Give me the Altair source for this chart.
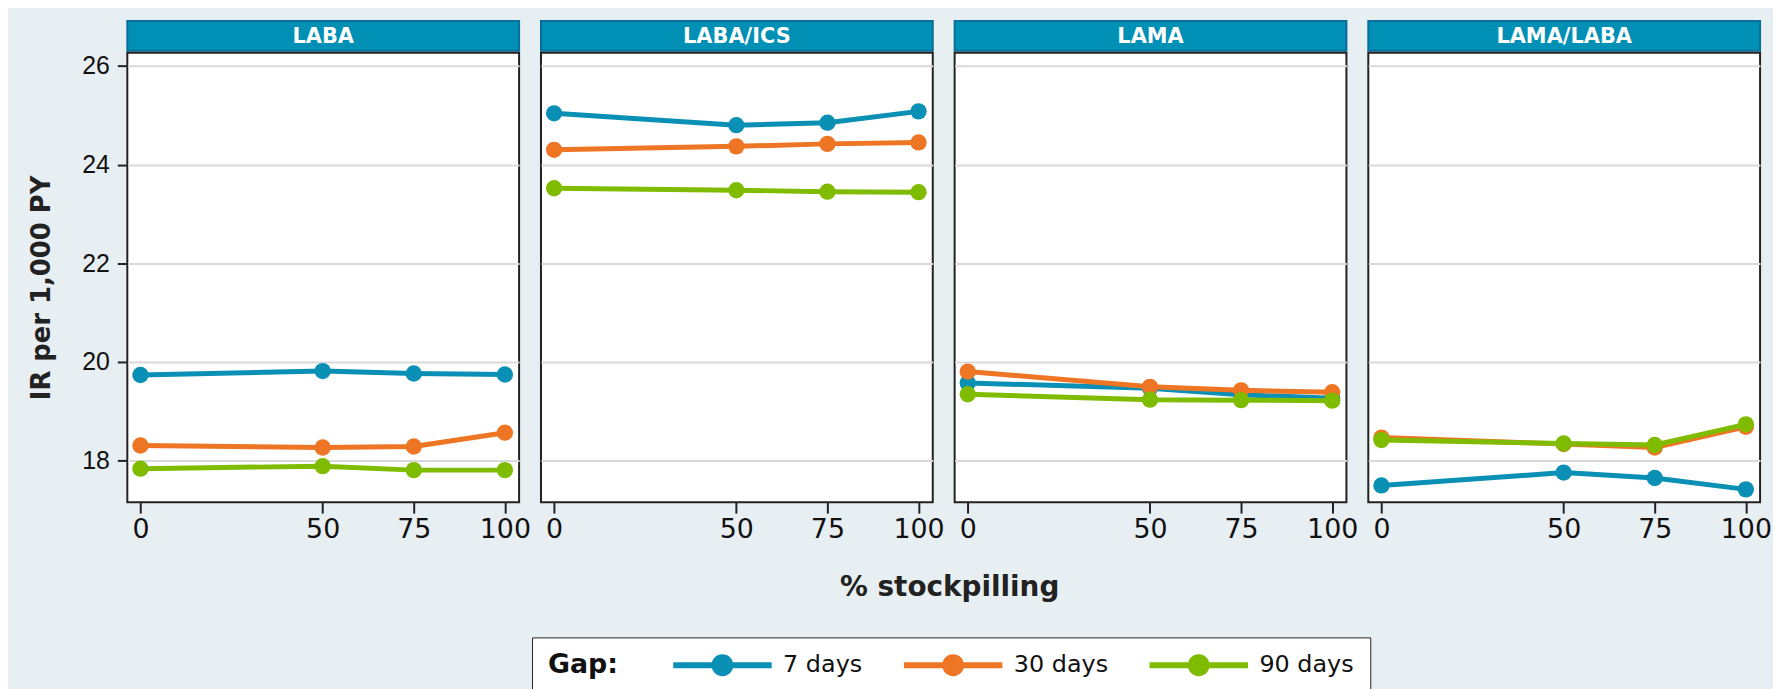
import altair as alt
import pandas as pd

categories = ["LABA", "LABA/ICS", "LAMA", "LAMA/LABA"]
stockpiling = [0, 50, 75, 100]
gaps = ["7 days", "30 days", "90 days"]
gap_colors = ["#0a8fb5", "#ee7524", "#7fbc00"]
y_ticks = [18, 20, 22, 24, 26]

# IR per 1,000 PY at 0, 50, 75, 100 % stockpiling
laba_7 = [19.73, 19.81, 19.76, 19.74]
laba_30 = [18.30, 18.26, 18.28, 18.56]
laba_90 = [17.83, 17.88, 17.80, 17.80]

labaics_7 = [25.04, 24.80, 24.85, 25.08]
labaics_30 = [24.30, 24.37, 24.42, 24.45]
labaics_90 = [23.52, 23.48, 23.45, 23.44]

lama_7 = [19.57, 19.46, 19.33, 19.26]
lama_30 = [19.80, 19.49, 19.42, 19.38]
lama_90 = [19.34, 19.23, 19.22, 19.21]

lamalaba_7 = [17.49, 17.75, 17.64, 17.41]
lamalaba_30 = [18.46, 18.33, 18.26, 18.68]
lamalaba_90 = [18.41, 18.34, 18.31, 18.73]

series = {
    "LABA": [laba_7, laba_30, laba_90],
    "LABA/ICS": [labaics_7, labaics_30, labaics_90],
    "LAMA": [lama_7, lama_30, lama_90],
    "LAMA/LABA": [lamalaba_7, lamalaba_30, lamalaba_90],
}

rows = []
for cat in categories:
    for g, vals in zip(gaps, series[cat]):
        for s, v in zip(stockpiling, vals):
            rows.append({"category": cat, "gap": g, "stock": s, "ir": v})
df = pd.DataFrame(rows)

W, H, HH = 394, 452, 30
BG = "#e8eff3"
HEADER = "#0090b5"
HEADER_EDGE = "#0a6e9c"
GRID = "#d9d9d9"
FONT = "DejaVu Sans"

legend_path = ("M-4.95,-0.3H4.95V0.3H-4.95Z "
               "M1.1,0A1.1,1.1,0,1,1,-1.1,0A1.1,1.1,0,1,1,1.1,0Z")

legend = alt.Legend(
    orient="none", legendX=407, legendY=620, direction="horizontal",
    title="Gap:", titleOrient="left", titleAnchor="middle", titleBaseline="middle",
    titleFont=FONT, titleFontSize=27, titleFontWeight="bold", titleColor="#111",
    titlePadding=53,
    labelFont=FONT, labelFontSize=24, labelColor="#111", labelOffset=49,
    symbolType=legend_path, symbolSize=400, symbolStrokeWidth=0, symbolOffset=39.5,
    symbolOpacity=1,
    columnPadding=39, padding=16, strokeColor="#222", fillColor="white",
)


def panel(i, cat):
    d = df[df.category == cat]
    base = alt.Chart(d)
    xenc = alt.X(
        "stock:Q",
        scale=alt.Scale(domain=[-3.6, 103.9], nice=False, zero=False),
        axis=alt.Axis(values=stockpiling, title=None, grid=False, domain=False,
                      tickSize=11, tickWidth=2, tickColor="#222",
                      labelFont=FONT, labelFontSize=27, labelColor="#111",
                      labelPadding=4, labelFlush=False),
    )
    if i == 0:
        yaxis = alt.Axis(values=y_ticks, title="IR per 1,000 PY",
                         titleFont=FONT, titleFontSize=26, titleFontWeight="bold",
                         titleColor="#222", titlePadding=27, titleY=236,
                         labelFont="Liberation Sans", labelFontSize=25, labelColor="#111",
                         tickSize=10, tickWidth=2, tickColor="#222", labelPadding=8,
                         domain=False, grid=True, gridColor=GRID, gridWidth=2)
    else:
        yaxis = alt.Axis(values=y_ticks, title=None, labels=False, ticks=False,
                         domain=False, grid=True, gridColor=GRID, gridWidth=2)
    yenc = alt.Y("ir:Q", scale=alt.Scale(domain=[17.15, 26.27], nice=False, zero=False),
                 axis=yaxis)
    cscale = alt.Scale(domain=gaps, range=gap_colors)
    color = alt.Color("gap:N", scale=cscale, legend=legend)
    layers = []
    for g in gaps:
        sub = base.transform_filter(alt.datum.gap == g)
        layers.append(sub.mark_line(strokeWidth=5).encode(x=xenc, y=yenc, color=color))
        layers.append(sub.mark_point(filled=True, size=270, opacity=1).encode(
            x=xenc, y=yenc, color=color))
    plot = alt.layer(*layers).properties(
        width=W, height=H,
        view=alt.ViewBackground(fill="white", stroke="#222", strokeWidth=2))
    header = alt.Chart(pd.DataFrame({"label": [cat]})).mark_text(
        font=FONT, fontSize=21, fontWeight="bold", color="white",
        align="center", baseline="middle",
    ).encode(text="label:N", x=alt.value(W / 2), y=alt.value(HH / 2 + 1)).properties(
        width=W, height=HH,
        view=alt.ViewBackground(fill=HEADER, stroke=HEADER_EDGE, strokeWidth=2))
    return alt.vconcat(header, plot, spacing=0)


panels = alt.hconcat(*[panel(i, c) for i, c in enumerate(categories)], spacing=8).properties(
    title=alt.TitleParams("% stockpilling", orient="bottom", anchor="middle", frame="group",
                          font=FONT, fontSize=28, fontWeight="bold", color="#222",
                          offset=30, dx=827)
)

chart = alt.vconcat(panels).properties(
    background=BG,
    padding={"left": 20, "top": 10, "right": 0, "bottom": 5},
).configure_view(stroke=None)

chart.save("out.html", embed_options={"renderer": "svg", "actions": False})
